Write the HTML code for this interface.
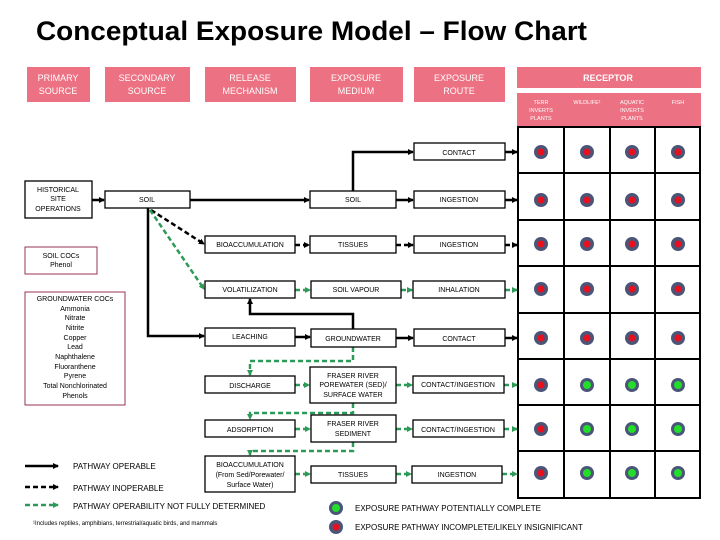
<!DOCTYPE html>
<html><head><meta charset="utf-8"><style>
html,body{margin:0;padding:0;background:#fff;}
svg{display:block;font-family:"Liberation Sans",sans-serif;}
.t{font-size:7px;text-anchor:middle;fill:#000;}
.h{font-size:9px;text-anchor:middle;fill:#fff;}
.b{fill:#fff;stroke:#000;stroke-width:1.3;}
.k{stroke:#000;stroke-width:2.5;fill:none;}
.kd{stroke:#000;stroke-width:2.5;fill:none;stroke-dasharray:5,3;}
.g{stroke:#2e9a57;stroke-width:2.5;fill:none;stroke-dasharray:5,3;}
</style></head><body>
<svg width="720" height="540" viewBox="0 0 720 540" xmlns="http://www.w3.org/2000/svg">
<defs>
<marker id="ak" markerWidth="6" markerHeight="6" refX="5" refY="3" orient="auto" markerUnits="userSpaceOnUse"><path d="M0,0 L6,3 L0,6z" fill="#000"/></marker>
<marker id="ag" markerWidth="6" markerHeight="6" refX="5" refY="3" orient="auto" markerUnits="userSpaceOnUse"><path d="M0,0 L6,3 L0,6z" fill="#2e9a57"/></marker>
</defs>
<text x="36" y="40" font-size="27" font-weight="bold" textLength="551" lengthAdjust="spacingAndGlyphs">Conceptual Exposure Model – Flow Chart</text>

<!-- headers -->
<g fill="#ec7182">
<rect x="27" y="67" width="63" height="35"/>
<rect x="105" y="67" width="85" height="35"/>
<rect x="205" y="67" width="91" height="35"/>
<rect x="310" y="67" width="93" height="35"/>
<rect x="414" y="67" width="91" height="35"/>
<rect x="517" y="67" width="184" height="21"/>
<rect x="517" y="93" width="184" height="34"/>
</g>
<text class="h" x="58" y="81">PRIMARY</text><text class="h" x="58" y="94">SOURCE</text>
<text class="h" x="147" y="81">SECONDARY</text><text class="h" x="147" y="94">SOURCE</text>
<text class="h" x="250" y="81">RELEASE</text><text class="h" x="250" y="94">MECHANISM</text>
<text class="h" x="356" y="81">EXPOSURE</text><text class="h" x="356" y="94">MEDIUM</text>
<text class="h" x="459" y="81">EXPOSURE</text><text class="h" x="459" y="94">ROUTE</text>
<text class="h" x="608" y="81" font-size="11" font-weight="bold">RECEPTOR</text>
<g font-size="5.5" fill="#fff" text-anchor="middle">
<text x="541" y="104">TERR</text><text x="541" y="112">INVERTS</text><text x="541" y="120">PLANTS</text>
<text x="587" y="104">WILDLIFE¹</text>
<text x="632" y="104">AQUATIC</text><text x="632" y="112">INVERTS</text><text x="632" y="120">PLANTS</text>
<text x="678" y="104">FISH</text>
</g>

<!-- grid -->
<g stroke="#000" stroke-width="2" fill="none">
<rect x="518" y="127" width="182" height="371" fill="#fff"/>
<path d="M564,127V498M610,127V498M655,127V498"/>
<path d="M518,173H700M518,220H700M518,266H700M518,313H700M518,359H700M518,405H700M518,451H700"/>
</g>
<g>
<!-- rows centers -->
<g fill="#4a5578">
<circle cx="541" cy="152" r="7"/><circle cx="587" cy="152" r="7"/><circle cx="632" cy="152" r="7"/><circle cx="678" cy="152" r="7"/>
<circle cx="541" cy="200" r="7"/><circle cx="587" cy="200" r="7"/><circle cx="632" cy="200" r="7"/><circle cx="678" cy="200" r="7"/>
<circle cx="541" cy="244" r="7"/><circle cx="587" cy="244" r="7"/><circle cx="632" cy="244" r="7"/><circle cx="678" cy="244" r="7"/>
<circle cx="541" cy="289" r="7"/><circle cx="587" cy="289" r="7"/><circle cx="632" cy="289" r="7"/><circle cx="678" cy="289" r="7"/>
<circle cx="541" cy="338" r="7"/><circle cx="587" cy="338" r="7"/><circle cx="632" cy="338" r="7"/><circle cx="678" cy="338" r="7"/>
<circle cx="541" cy="385" r="7"/><circle cx="587" cy="385" r="7"/><circle cx="632" cy="385" r="7"/><circle cx="678" cy="385" r="7"/>
<circle cx="541" cy="429" r="7"/><circle cx="587" cy="429" r="7"/><circle cx="632" cy="429" r="7"/><circle cx="678" cy="429" r="7"/>
<circle cx="541" cy="473" r="7"/><circle cx="587" cy="473" r="7"/><circle cx="632" cy="473" r="7"/><circle cx="678" cy="473" r="7"/>
<circle cx="336" cy="508" r="7"/><circle cx="336" cy="527" r="7"/>
</g>
<g fill="#e8101e">
<circle cx="541" cy="152" r="3.5"/><circle cx="587" cy="152" r="3.5"/><circle cx="632" cy="152" r="3.5"/><circle cx="678" cy="152" r="3.5"/>
<circle cx="541" cy="200" r="3.5"/><circle cx="587" cy="200" r="3.5"/><circle cx="632" cy="200" r="3.5"/><circle cx="678" cy="200" r="3.5"/>
<circle cx="541" cy="244" r="3.5"/><circle cx="587" cy="244" r="3.5"/><circle cx="632" cy="244" r="3.5"/><circle cx="678" cy="244" r="3.5"/>
<circle cx="541" cy="289" r="3.5"/><circle cx="587" cy="289" r="3.5"/><circle cx="632" cy="289" r="3.5"/><circle cx="678" cy="289" r="3.5"/>
<circle cx="541" cy="338" r="3.5"/><circle cx="587" cy="338" r="3.5"/><circle cx="632" cy="338" r="3.5"/><circle cx="678" cy="338" r="3.5"/>
<circle cx="541" cy="385" r="3.5"/><circle cx="541" cy="429" r="3.5"/><circle cx="541" cy="473" r="3.5"/>
<circle cx="336" cy="527" r="3.5"/>
</g>
<g fill="#22dd2a">
<circle cx="587" cy="385" r="4"/><circle cx="632" cy="385" r="4"/><circle cx="678" cy="385" r="4"/>
<circle cx="587" cy="429" r="4"/><circle cx="632" cy="429" r="4"/><circle cx="678" cy="429" r="4"/>
<circle cx="587" cy="473" r="4"/><circle cx="632" cy="473" r="4"/><circle cx="678" cy="473" r="4"/>
<circle cx="336" cy="508" r="4"/>
</g>
</g>

<!-- connectors -->
<path class="k" d="M92,200H104" marker-end="url(#ak)"/>
<path class="k" d="M190,200H309" marker-end="url(#ak)"/>
<path class="k" d="M353,191V152H413" marker-end="url(#ak)"/>
<path class="k" d="M505,152H517" marker-end="url(#ak)"/>
<path class="k" d="M396,200H413" marker-end="url(#ak)"/>
<path class="k" d="M505,200H517" marker-end="url(#ak)"/>
<path class="kd" d="M151,210L204,244" marker-end="url(#ak)"/>
<path class="g" d="M150,210L204,289" marker-end="url(#ag)"/>
<path class="k" d="M148,208V336H204" marker-end="url(#ak)"/>
<path class="kd" d="M295,245H309" marker-end="url(#ak)"/>
<path class="kd" d="M396,245H413" marker-end="url(#ak)"/>
<path class="kd" d="M505,245H517" marker-end="url(#ak)"/>
<path class="g" d="M295,290H310" marker-end="url(#ag)"/>
<path class="g" d="M401,290H412" marker-end="url(#ag)"/>
<path class="g" d="M505,290H517" marker-end="url(#ag)"/>
<path class="k" d="M295,337H310" marker-end="url(#ak)"/>
<path class="k" d="M353,329V314H250V299" marker-end="url(#ak)"/>
<path class="k" d="M396,338H413" marker-end="url(#ak)"/>
<path class="k" d="M505,338H517" marker-end="url(#ak)"/>
<path class="g" d="M353,347V361H250V375" marker-end="url(#ag)"/>
<path class="g" d="M295,385H309" marker-end="url(#ag)"/>
<path class="g" d="M396,385H412" marker-end="url(#ag)"/>
<path class="g" d="M504,385H517" marker-end="url(#ag)"/>
<path class="g" d="M353,403V413H250V419" marker-end="url(#ag)"/>
<path class="g" d="M295,429H310" marker-end="url(#ag)"/>
<path class="g" d="M396,429H412" marker-end="url(#ag)"/>
<path class="g" d="M504,429H517" marker-end="url(#ag)"/>
<path class="g" d="M353,442V451H250V455" marker-end="url(#ag)"/>
<path class="g" d="M295,474H310" marker-end="url(#ag)"/>
<path class="g" d="M396,474H411" marker-end="url(#ag)"/>
<path class="g" d="M502,474H517" marker-end="url(#ag)"/>

<!-- boxes -->
<rect class="b" x="25" y="181" width="67" height="37"/>
<text class="t" x="58" y="192">HISTORICAL</text><text class="t" x="58" y="201">SITE</text><text class="t" x="58" y="211">OPERATIONS</text>
<rect class="b" x="105" y="191" width="85" height="17"/><text class="t" x="147" y="202">SOIL</text>
<rect class="b" x="414" y="143" width="91" height="17"/><text class="t" x="459" y="155">CONTACT</text>
<rect class="b" x="310" y="191" width="86" height="17"/><text class="t" x="353" y="202">SOIL</text>
<rect class="b" x="414" y="191" width="91" height="17"/><text class="t" x="459" y="202">INGESTION</text>
<rect class="b" x="205" y="236" width="90" height="17"/><text class="t" x="250" y="247">BIOACCUMULATION</text>
<rect class="b" x="310" y="236" width="86" height="17"/><text class="t" x="353" y="247">TISSUES</text>
<rect class="b" x="414" y="236" width="91" height="17"/><text class="t" x="459" y="247">INGESTION</text>
<rect class="b" x="205" y="281" width="90" height="17"/><text class="t" x="250" y="292">VOLATILIZATION</text>
<rect class="b" x="311" y="281" width="90" height="17"/><text class="t" x="356" y="292">SOIL VAPOUR</text>
<rect class="b" x="413" y="281" width="92" height="17"/><text class="t" x="459" y="292">INHALATION</text>
<rect class="b" x="205" y="328" width="90" height="18"/><text class="t" x="250" y="339">LEACHING</text>
<rect class="b" x="311" y="329" width="85" height="18"/><text class="t" x="353" y="341">GROUNDWATER</text>
<rect class="b" x="414" y="329" width="91" height="17"/><text class="t" x="459" y="341">CONTACT</text>
<rect class="b" x="205" y="376" width="90" height="17"/><text class="t" x="250" y="388">DISCHARGE</text>
<rect class="b" x="310" y="367" width="86" height="36"/>
<text class="t" x="353" y="378">FRASER RIVER</text><text class="t" x="353" y="387">POREWATER (SED)/</text><text class="t" x="353" y="397">SURFACE WATER</text>
<rect class="b" x="413" y="376" width="91" height="17"/><text class="t" x="458" y="387">CONTACT/INGESTION</text>
<rect class="b" x="205" y="420" width="90" height="17"/><text class="t" x="250" y="432">ADSORPTION</text>
<rect class="b" x="311" y="415" width="85" height="27"/>
<text class="t" x="353" y="426">FRASER RIVER</text><text class="t" x="353" y="436">SEDIMENT</text>
<rect class="b" x="413" y="420" width="91" height="17"/><text class="t" x="458" y="432">CONTACT/INGESTION</text>
<rect class="b" x="205" y="456" width="90" height="36"/>
<text class="t" x="250" y="467">BIOACCUMULATION</text><text class="t" x="250" y="477">(From Sed/Porewater/</text><text class="t" x="250" y="487">Surface Water)</text>
<rect class="b" x="311" y="466" width="85" height="17"/><text class="t" x="353" y="477">TISSUES</text>
<rect class="b" x="412" y="466" width="90" height="17"/><text class="t" x="457" y="477">INGESTION</text>

<rect x="25" y="247" width="72" height="27" fill="#fff" stroke="#9a3350" stroke-width="1"/>
<text class="t" x="61" y="258">SOIL COCs</text><text class="t" x="61" y="267">Phenol</text>
<rect x="25" y="292" width="100" height="113" fill="#fff" stroke="#9a3350" stroke-width="1"/>
<g class="t">
<text class="t" x="75" y="301">GROUNDWATER COCs</text>
<text class="t" x="75" y="311">Ammonia</text>
<text class="t" x="75" y="320">Nitrate</text>
<text class="t" x="75" y="330">Nitrite</text>
<text class="t" x="75" y="340">Copper</text>
<text class="t" x="75" y="349">Lead</text>
<text class="t" x="75" y="359">Naphthalene</text>
<text class="t" x="75" y="369">Fluoranthene</text>
<text class="t" x="75" y="378">Pyrene</text>
<text class="t" x="75" y="388">Total Nonchlorinated</text>
<text class="t" x="75" y="398">Phenols</text>
</g>

<!-- legend -->
<path class="k" d="M25,466H58" marker-end="url(#ak)"/>
<path class="kd" d="M25,487H58" marker-end="url(#ak)"/>
<path class="g" d="M25,505H58" marker-end="url(#ag)"/>
<g font-size="8" fill="#000">
<text x="73" y="469">PATHWAY OPERABLE</text>
<text x="73" y="491">PATHWAY INOPERABLE</text>
<text x="73" y="509">PATHWAY OPERABILITY NOT FULLY DETERMINED</text>
<text x="355" y="511">EXPOSURE PATHWAY POTENTIALLY COMPLETE</text>
<text x="355" y="530">EXPOSURE PATHWAY INCOMPLETE/LIKELY INSIGNIFICANT</text>
<text x="33" y="525" font-size="6">¹Includes reptiles, amphibians, terrestrial/aquatic birds, and mammals</text>
</g>
</svg>
</body></html>
